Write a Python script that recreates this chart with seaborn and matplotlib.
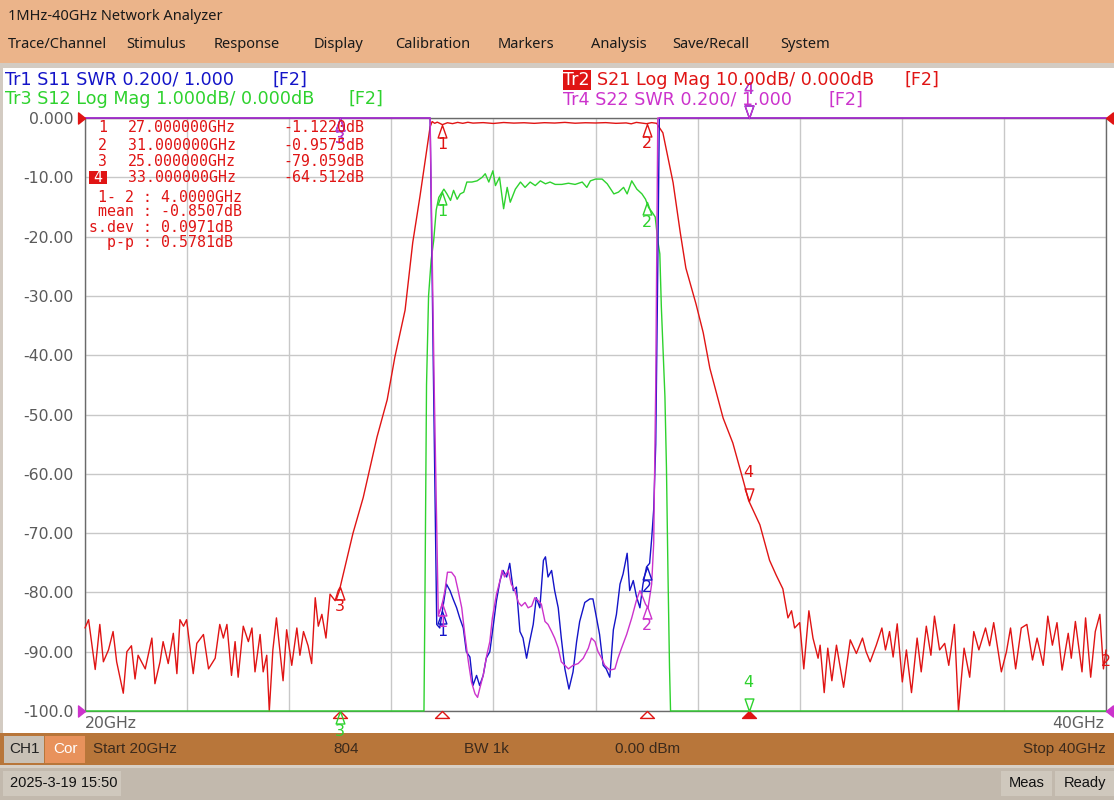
import numpy as np
import matplotlib
matplotlib.use('Agg')
import matplotlib.pyplot as plt
from matplotlib.patches import Rectangle
from matplotlib.path import Path
import seaborn as sns

# ---- trace data ----
# Tr2 S21 (dB)
red_ghz = [20.00, 20.07, 20.20, 20.29, 20.36, 20.46, 20.55, 20.62, 20.75, 20.82,
           20.91, 20.98, 21.04, 21.18, 21.31, 21.37, 21.47, 21.53, 21.63, 21.73,
           21.80, 21.86, 21.93, 21.99, 22.12, 22.19, 22.32, 22.42, 22.55, 22.64,
           22.71, 22.78, 22.87, 22.94, 23.00, 23.10, 23.20, 23.27, 23.33, 23.43,
           23.49, 23.56, 23.61, 23.68, 23.75, 23.88, 23.95, 24.05, 24.15, 24.21,
           24.28, 24.37, 24.44, 24.51, 24.57, 24.64, 24.72, 24.80, 24.90, 24.96,
           25.00, 25.25, 25.45, 25.72, 25.92, 26.07, 26.27, 26.42, 26.56, 26.70,
           26.76, 26.80, 26.85, 26.90, 26.95, 27.00, 27.10, 27.20, 27.30, 27.40,
           27.50, 27.60, 27.80, 28.00, 28.20, 28.40, 28.60, 28.80, 29.00, 29.20,
           29.40, 29.60, 29.80, 30.00, 30.20, 30.40, 30.60, 30.70, 30.80, 30.90,
           31.00, 31.10, 31.20, 31.25, 31.32, 31.52, 31.66, 31.77, 31.97, 32.11,
           32.24, 32.50, 32.69, 32.89, 33.00, 33.22, 33.41, 33.54, 33.67, 33.77,
           33.84, 33.90, 34.00, 34.08, 34.18, 34.26, 34.36, 34.40, 34.48, 34.55,
           34.63, 34.72, 34.86, 34.99, 35.11, 35.23, 35.30, 35.38, 35.50, 35.61,
           35.68, 35.76, 35.83, 35.91, 36.01, 36.09, 36.19, 36.30, 36.38, 36.48,
           36.57, 36.64, 36.74, 36.84, 36.92, 37.03, 37.11, 37.22, 37.33, 37.41,
           37.51, 37.64, 37.72, 37.80, 37.95, 38.05, 38.13, 38.23, 38.34, 38.45,
           38.56, 38.65, 38.77, 38.86, 38.95, 39.04, 39.14, 39.26, 39.32, 39.40,
           39.53, 39.60, 39.70, 39.79, 39.88, 39.95, 40.00]
red_db = [-86.0, -84.6, -93.0, -85.4, -91.7, -89.7, -86.6, -91.7, -97.0, -90.0,
          -89.0, -94.6, -90.6, -92.9, -87.7, -95.4, -91.7, -88.3, -92.0, -86.9,
          -93.7, -84.6, -85.7, -84.6, -93.7, -88.6, -87.1, -92.9, -91.1, -85.4,
          -87.7, -85.4, -94.0, -88.3, -94.3, -85.7, -88.3, -86.0, -93.4, -87.1,
          -93.4, -90.6, -100.0, -89.7, -84.3, -94.9, -86.3, -92.3, -86.0, -90.6,
          -86.6, -89.0, -92.0, -80.9, -85.7, -83.7, -87.7, -80.3, -81.4, -79.7,
          -79.059, -70.0, -64.0, -53.8, -47.5, -40.3, -32.4, -21.0, -13.3, -5.0,
          -1.5, -0.6, -0.9, -0.7, -0.9, -1.122, -0.80, -0.95, -0.74, -0.90,
          -0.72, -0.86, -0.78, -0.92, -0.76, -0.86, -0.80, -0.90, -0.79, -0.85,
          -0.74, -0.88, -0.80, -0.84, -0.78, -0.90, -0.83, -0.98, -0.74, -0.84,
          -0.9575, -0.78, -0.90, -1.6, -2.5, -10.9, -19.3, -25.3, -31.4, -36.2,
          -42.2, -50.6, -54.8, -61.0, -64.512, -68.6, -74.6, -77.1, -79.4, -84.3,
          -83.1, -86.0, -85.1, -92.9, -83.1, -87.7, -91.1, -88.9, -96.9, -89.4,
          -94.9, -88.9, -96.0, -88.0, -90.3, -87.7, -90.0, -91.7, -88.9, -86.0,
          -89.7, -86.6, -90.9, -85.3, -95.1, -89.7, -96.9, -87.7, -93.4, -85.7,
          -90.6, -84.0, -89.7, -88.6, -92.3, -85.4, -100.0, -89.4, -94.3, -86.6,
          -89.7, -86.0, -89.0, -85.1, -93.4, -90.0, -86.0, -92.9, -86.0, -85.4,
          -91.4, -87.7, -92.3, -84.0, -88.9, -85.1, -93.1, -86.9, -91.1, -84.9,
          -93.4, -84.3, -94.3, -86.6, -83.7, -92.9, -89.7]

# Tr3 S12 (dB, 1 dB/div)
green_ghz = [20.00, 26.64, 26.66, 26.69, 26.73, 26.78, 26.83, 26.88, 26.93, 27.03,
             27.09, 27.16, 27.22, 27.29, 27.35, 27.42, 27.48, 27.58, 27.68, 27.78,
             27.84, 27.91, 27.99, 28.04, 28.12, 28.20, 28.27, 28.33, 28.43, 28.53,
             28.62, 28.72, 28.82, 28.92, 29.02, 29.11, 29.21, 29.34, 29.47, 29.60,
             29.74, 29.83, 29.90, 30.00, 30.13, 30.23, 30.36, 30.45, 30.55, 30.62,
             30.71, 30.81, 30.91, 30.98, 31.04, 31.11, 31.17, 31.22, 31.26, 31.29,
             31.36, 31.39, 31.42, 31.45, 31.47, 40.00]
green_db = [-10.0, -10.0, -8.0, -4.5, -3.0, -2.4, -2.07, -1.55, -1.34, -1.20,
            -1.28, -1.39, -1.22, -1.37, -1.28, -1.25, -1.08, -1.08, -1.06, -1.00,
            -0.94, -1.08, -0.89, -1.14, -1.00, -1.53, -1.17, -1.42, -1.20, -1.08,
            -1.17, -1.08, -1.14, -1.06, -1.11, -1.08, -1.12, -1.12, -1.10, -1.12,
            -1.08, -1.17, -1.06, -1.03, -1.03, -1.11, -1.28, -1.25, -1.17, -1.28,
            -1.06, -1.20, -1.28, -1.37, -1.51, -1.59, -1.67, -2.07, -2.29, -3.19,
            -4.70, -5.90, -7.70, -9.27, -10.0, -10.0]

# Tr1 S11 (SWR, 0.2/div, 1.000 at bottom; values of 3.0 sit on the top line)
blue_ghz = [20.00, 26.76, 26.82, 26.89, 26.95, 26.98, 27.02, 27.08, 27.15, 27.21,
            27.28, 27.34, 27.41, 27.47, 27.54, 27.60, 27.67, 27.73, 27.80, 27.86,
            27.93, 28.00, 28.06, 28.13, 28.19, 28.26, 28.32, 28.39, 28.45, 28.52,
            28.58, 28.65, 28.71, 28.78, 28.84, 28.91, 28.98, 29.02, 29.07, 29.14,
            29.20, 29.27, 29.33, 29.40, 29.48, 29.56, 29.63, 29.69, 29.79, 29.89,
            29.95, 30.02, 30.08, 30.15, 30.21, 30.28, 30.35, 30.41, 30.48, 30.54,
            30.62, 30.67, 30.74, 30.80, 30.87, 30.93, 31.00, 31.06, 31.10, 31.14,
            31.18, 31.22, 31.25, 40.00]
blue_swr = [3.000, 3.000, 2.200, 1.292, 1.280, 1.314, 1.360, 1.428, 1.406, 1.378,
            1.348, 1.314, 1.280, 1.200, 1.182, 1.086, 1.120, 1.086, 1.120, 1.178,
            1.200, 1.292, 1.372, 1.440, 1.474, 1.452, 1.498, 1.406, 1.418, 1.268,
            1.246, 1.178, 1.234, 1.292, 1.382, 1.348, 1.508, 1.520, 1.452, 1.474,
            1.406, 1.348, 1.246, 1.142, 1.074, 1.132, 1.234, 1.302, 1.366, 1.378,
            1.378, 1.314, 1.258, 1.154, 1.142, 1.114, 1.274, 1.326, 1.428, 1.462,
            1.532, 1.406, 1.440, 1.388, 1.348, 1.428, 1.486, 1.498, 1.580, 1.680,
            1.900, 2.500, 3.000, 3.000]

# Tr4 S22 (SWR)
mag_ghz = [20.00, 26.76, 26.84, 26.92, 26.98, 27.02, 27.05, 27.10, 27.18, 27.25,
           27.31, 27.38, 27.44, 27.51, 27.57, 27.64, 27.69, 27.73, 27.80, 27.87,
           27.93, 27.98, 28.06, 28.13, 28.17, 28.22, 28.29, 28.35, 28.42, 28.49,
           28.55, 28.62, 28.68, 28.75, 28.81, 28.88, 28.94, 29.01, 29.07, 29.14,
           29.20, 29.27, 29.33, 29.40, 29.47, 29.56, 29.66, 29.76, 29.86, 29.92,
           29.99, 30.05, 30.12, 30.18, 30.28, 30.38, 30.44, 30.51, 30.61, 30.71,
           30.80, 30.87, 30.93, 30.98, 31.03, 31.10, 31.14, 31.18, 31.22, 40.00]
mag_swr = [3.000, 3.000, 2.100, 1.326, 1.350, 1.380, 1.406, 1.468, 1.468, 1.452,
           1.406, 1.348, 1.258, 1.166, 1.098, 1.058, 1.046, 1.074, 1.120, 1.188,
           1.234, 1.314, 1.394, 1.440, 1.474, 1.452, 1.474, 1.428, 1.406, 1.366,
           1.354, 1.366, 1.348, 1.354, 1.382, 1.372, 1.360, 1.302, 1.292, 1.268,
           1.246, 1.212, 1.166, 1.154, 1.142, 1.154, 1.160, 1.178, 1.212, 1.246,
           1.234, 1.200, 1.178, 1.154, 1.138, 1.142, 1.178, 1.212, 1.258, 1.314,
           1.372, 1.406, 1.382, 1.360, 1.348, 1.428, 1.566, 2.100, 3.000, 3.000]

# markers
marker_ids = ['1', '2', '3', '4']
marker_ghz = [27.0, 31.0, 25.0, 33.0]
marker_freq_txt = ['27.000000GHz', '31.000000GHz', '25.000000GHz', '33.000000GHz']
marker_val_txt = ['-1.1220dB', '-0.9575dB', '-79.059dB', '-64.512dB']
stats_lines = [' 1- 2 : 4.0000GHz', ' mean : -0.8507dB', 's.dev : 0.0971dB', '  p-p : 0.5781dB']
active_marker = '4'

y_ticks = [0, -10, -20, -30, -40, -50, -60, -70, -80, -90, -100]
y_tick_labels = ['0.000', '-10.00', '-20.00', '-30.00', '-40.00', '-50.00',
                 '-60.00', '-70.00', '-80.00', '-90.00', '-100.0']
menu_items = ['Trace/Channel', 'Stimulus', 'Response', 'Display', 'Calibration',
              'Markers', 'Analysis', 'Save/Recall', 'System']
menu_x = [8, 126, 214, 314, 395, 498, 591, 672, 780]

RED, GREEN, BLUE, MAG = '#e01414', '#2ed22e', '#1414c8', '#cc33cc'

sns.set_style('white')
plt.rcParams['font.family'] = ['DejaVu Sans']

W, H = 1114, 800
fig = plt.figure(figsize=(W / 100, H / 100), dpi=100, facecolor='white')


def box(x0, y0, x1, y1, color, z=0):
    fig.add_artist(Rectangle((x0 / W, 1 - y1 / H), (x1 - x0) / W, (y1 - y0) / H,
                             transform=fig.transFigure, facecolor=color,
                             edgecolor='none', zorder=z))


def txt(x, y, s, **kw):
    kw.setdefault('va', 'center')
    fig.text(x / W, 1 - y / H, s, **kw)


# window chrome
box(0, 0, W, 63, '#ebb48a')
box(0, 63, W, 68, '#d3cbc2')
box(0, 68, 3, 733, '#d3cbc2')
box(0, 733, W, 765, '#b8763a')
box(0, 765, W, 768, '#d8d0c6')
box(0, 768, W, H, '#c2b9ad')
box(4, 736, 44, 763, '#c9c1b6')
box(45, 736, 85, 763, '#e8925c')
box(3, 771, 121, 796, '#cfc8bd')
box(1001, 771, 1052, 796, '#cfc8bd')
box(1055, 771, W, 796, '#cfc8bd')

txt(8, 16, '1MHz-40GHz Network Analyzer', family='Noto Sans', fontsize=10.5, color='#1a1a1a')
for s, x in zip(menu_items, menu_x):
    txt(x, 44, s, family='Noto Sans', fontsize=10.5, color='#1a1a1a')

# trace header
hdr = dict(fontsize=12.6)
txt(5, 80, 'Tr1 S11 SWR 0.200/ 1.000', color=BLUE, **hdr)
txt(272, 80, '[F2]', color=BLUE, **hdr)
txt(5, 99, 'Tr3 S12 Log Mag 1.000dB/ 0.000dB', color=GREEN, **hdr)
txt(348, 99, '[F2]', color=GREEN, **hdr)
box(563, 70, 591, 90, RED)
txt(563, 80, 'Tr2', color='white', **hdr)
txt(597, 80, 'S21 Log Mag 10.00dB/ 0.000dB', color=RED, **hdr)
txt(905, 80, '[F2]', color=RED, **hdr)
txt(563, 100, 'Tr4 S22 SWR 0.200/ 1.000', color=MAG, **hdr)
txt(829, 100, '[F2]', color=MAG, **hdr)

# bottom bars
bar = dict(family='Liberation Sans', fontsize=11, color='#3b2a1c')
txt(24, 749, 'CH1', ha='center', family='Liberation Sans', fontsize=11, color='#222222')
txt(65, 749, 'Cor', ha='center', family='Liberation Sans', fontsize=11, color='white')
txt(93, 749, 'Start 20GHz', **bar)
txt(333, 749, '804', **bar)
txt(464, 749, 'BW 1k', **bar)
txt(615, 749, '0.00 dBm', **bar)
txt(1106, 749, 'Stop 40GHz', ha='right', **bar)
txt(10, 783, '2025-3-19 15:50', family='Liberation Sans', fontsize=10.5, color='#111111')
txt(1027, 783, 'Meas', ha='center', family='Liberation Sans', fontsize=10.5, color='#111111')
txt(1085, 783, 'Ready', ha='center', family='Liberation Sans', fontsize=10.5, color='#111111')

# plot area
ax = fig.add_axes([85 / W, 1 - 711 / H, 1021 / W, 593 / H])
ax.set_facecolor('white')

red_y = np.array(red_db)
green_y = np.array(green_db) * 10.0
blue_y = -100 + (np.array(blue_swr) - 1.0) / 0.2 * 10.0
mag_y = -100 + (np.array(mag_swr) - 1.0) / 0.2 * 10.0

traces = [(red_ghz, red_y, RED), (green_ghz, green_y, GREEN),
          (blue_ghz, blue_y, BLUE), (mag_ghz, mag_y, MAG)]
for i, (xs, ys, c) in enumerate(traces):
    sns.lineplot(x=xs, y=ys, ax=ax, color=c, linewidth=1.0, sort=False, estimator=None)
    ax.lines[-1].set_clip_on(False)
    ax.lines[-1].set_zorder(3 + 0.1 * i)

ax.set_xlim(20, 40)
ax.set_ylim(-100, 0)
ax.set_xticks(np.arange(20, 41, 2))
ax.set_xticklabels([])
ax.set_yticks(y_ticks)
ax.set_yticklabels(y_tick_labels)
ax.tick_params(length=0, pad=8, labelsize=11.3, labelcolor='#5a5a5a')
ax.tick_params(axis='x', pad=0)
ax.grid(True, color='#c8c8c8', linewidth=1.0)
for sp in ax.spines.values():
    sp.set_color('#6a6a6a')
    sp.set_linewidth(1.0)
ax.set_xlabel('')
ax.set_ylabel('')

# marker symbols: apex sits on the trace
tri_up = Path([(0, 0), (-0.35, -1), (0.35, -1), (0, 0)],
              [Path.MOVETO, Path.LINETO, Path.LINETO, Path.CLOSEPOLY])
tri_dn = Path([(0, 0), (-0.35, 1), (0.35, 1), (0, 0)],
              [Path.MOVETO, Path.LINETO, Path.LINETO, Path.CLOSEPOLY])
ind_up = Path([(0, 0), (-1, -1), (1, -1), (0, 0)],
              [Path.MOVETO, Path.LINETO, Path.LINETO, Path.CLOSEPOLY])
ref_r = Path([(0, 0), (-1, 0.8), (-1, -0.8), (0, 0)],
             [Path.MOVETO, Path.LINETO, Path.LINETO, Path.CLOSEPOLY])
ref_l = Path([(0, 0), (1, 0.8), (1, -0.8), (0, 0)],
             [Path.MOVETO, Path.LINETO, Path.LINETO, Path.CLOSEPOLY])

order = [(blue_ghz, blue_y, BLUE), (mag_ghz, mag_y, MAG),
         (green_ghz, green_y, GREEN), (red_ghz, red_y, RED)]
for j, (xs, ys, c) in enumerate(order):
    for mid, f in zip(marker_ids, marker_ghz):
        yv = float(np.interp(f, xs, ys))
        up = mid != active_marker
        ax.plot([f], [yv], marker=tri_up if up else tri_dn, ms=18, mfc='none',
                mec=c, mew=1.0, ls='none', clip_on=False, zorder=5 + j)
        ax.annotate(mid, (f, yv), xytext=(0, -14.5 if up else 20.5),
                    textcoords='offset points', ha='center', va='center',
                    color=c, fontsize=11.5, annotation_clip=False, zorder=5 + j)

# marker stimulus indicators under the axis
for mid, f in zip(marker_ids, marker_ghz):
    act = mid == active_marker
    ax.plot([f], [-100], marker=ind_up, ms=10, mfc=RED if act else 'none', mec=RED,
            mew=1.0, ls='none', clip_on=False, zorder=4)

# reference level arrows
ax.plot([20], [0], marker=ref_r, ms=10, color=RED, ls='none', clip_on=False, zorder=6)
ax.plot([20], [-100], marker=ref_r, ms=10, color=MAG, ls='none', clip_on=False, zorder=6)
ax.plot([40], [0], marker=ref_l, ms=10, color=RED, ls='none', clip_on=False, zorder=6)
ax.plot([40], [-100], marker=ref_l, ms=10, color=MAG, ls='none', clip_on=False, zorder=6)
ax.annotate('2', (40, red_y[-1]), xytext=(0, -8), textcoords='offset points',
            ha='center', va='center', color=RED, fontsize=11.5, annotation_clip=False)

# marker table (drawn above the axes)
mono = dict(family='DejaVu Sans Mono', fontsize=10.7, color=RED, zorder=3)
row_y = [128, 145, 161, 177]
for mid, ftxt, vtxt, y in zip(marker_ids, marker_freq_txt, marker_val_txt, row_y):
    if mid == active_marker:
        box(89, 171, 107, 184, RED, z=2)
        txt(98, y, mid, ha='center', family='DejaVu Sans Mono', fontsize=10.7,
            color='white', zorder=3)
    else:
        txt(98, y, mid, **mono)
    txt(128, y, ftxt, **mono)
    txt(283, y, vtxt, **mono)
for s, y in zip(stats_lines, [197, 212, 227, 242]):
    txt(89, y, s, **mono)

txt(85, 724, '20GHz', fontsize=11.3, color='#606060')
txt(1104, 724, '40GHz', ha='right', fontsize=11.3, color='#606060')

fig.savefig('out.png', dpi=100, facecolor=fig.get_facecolor())
